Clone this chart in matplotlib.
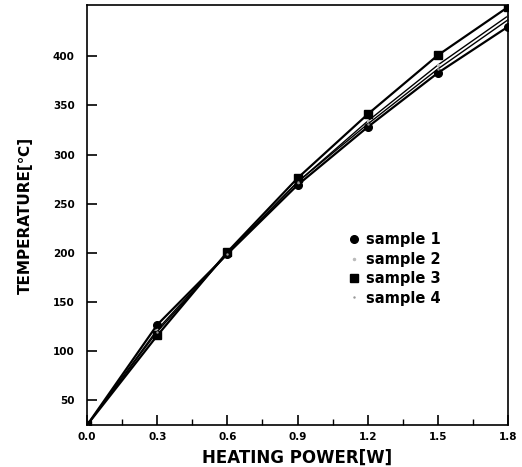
import matplotlib
matplotlib.use("Agg")
import matplotlib.pyplot as plt
from matplotlib.ticker import MultipleLocator

power = [0.0, 0.3, 0.6, 0.9, 1.2, 1.5, 1.8]
sample1 = [25, 127, 199, 269, 328, 383, 430]
sample2 = [25, 122, 200, 272, 334, 391, 441]
sample3 = [25, 116, 201, 276, 341, 401, 450]
sample4 = [25, 120, 199, 272, 331, 387, 437]
labels = ["sample 1", "sample 2", "sample 3", "sample 4"]
xticks = [0.0, 0.3, 0.6, 0.9, 1.2, 1.5, 1.8]
yticks = [50, 100, 150, 200, 250, 300, 350, 400]

fam = ["DejaVu Sans"]
plt.rcParams["font.family"] = fam
plt.rcParams["font.weight"] = "bold"

fig = plt.figure(figsize=(5.22, 4.67), dpi=100)
ax = fig.add_axes([0.167, 0.09, 0.806, 0.899])

ax.plot(power, sample1, color="black", lw=1.6, marker="o", ms=5.5, label=labels[0])
ax.plot(power, sample2, color="black", lw=1.0, marker=".", ms=3, mfc="#bbbbbb", mec="#bbbbbb", label=labels[1])
ax.plot(power, sample3, color="black", lw=1.6, marker="s", ms=5.5, label=labels[2])
ax.plot(power, sample4, color="black", lw=1.0, marker=".", ms=1.5, mfc="#999999", mec="#999999", label=labels[3])

ax.set_xlim(0, 1.8)
ax.set_ylim(25, 452)
ax.set_xticks(xticks)
ax.set_xticklabels([f"{v:.1f}" for v in xticks])
ax.xaxis.set_minor_locator(MultipleLocator(0.15))
ax.set_yticks(yticks)
ax.set_yticklabels([str(v) for v in yticks])

ax.tick_params(axis="both", which="major", direction="in", length=7, width=1.2, labelsize=7.5, pad=5)
ax.tick_params(axis="y", which="major", pad=9)
ax.tick_params(axis="x", which="minor", direction="in", length=4, width=1.0)
for lab in ax.get_xticklabels() + ax.get_yticklabels():
    lab.set_fontweight("bold")
for s in ax.spines.values():
    s.set_linewidth(1.2)

ax.set_xlabel("HEATING POWER[W]", fontsize=12, fontweight="bold", labelpad=5)
ax.set_ylabel("TEMPERATURE[℃]", fontsize=11, fontweight="bold", labelpad=14)

leg = ax.legend(loc="upper left", bbox_to_anchor=(0.59, 0.49), frameon=False,
                handlelength=0.8, handletextpad=0.4, labelspacing=0.3,
                prop={"weight": "bold", "size": 10.5})
for h in leg.legend_handles:
    h.set_linestyle("None")
fig.savefig("out.png", dpi=100)
